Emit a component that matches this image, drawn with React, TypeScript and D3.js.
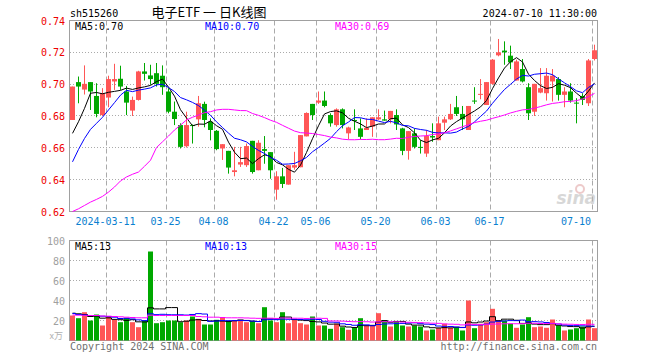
import * as d3 from 'd3';
import React from 'react';

// trading days shown (2024-03-01 .. 2024-07-10)
const days = [
  '03-01', '03-04', '03-05', '03-06', '03-07', '03-08', '03-11', '03-12', '03-13', '03-14', '03-15',
  '03-18', '03-19', '03-20', '03-21', '03-22', '03-25', '03-26', '03-27', '03-28', '03-29',
  '04-01', '04-02', '04-03', '04-08', '04-09', '04-10', '04-11', '04-12', '04-15', '04-16', '04-17',
  '04-18', '04-19', '04-22', '04-23', '04-24', '04-25', '04-26', '04-29', '04-30',
  '05-06', '05-07', '05-08', '05-09', '05-10', '05-13', '05-14', '05-15', '05-16', '05-17',
  '05-20', '05-21', '05-22', '05-23', '05-24', '05-27', '05-28', '05-29', '05-30', '05-31',
  '06-03', '06-04', '06-05', '06-06', '06-07', '06-11', '06-12', '06-13', '06-14',
  '06-17', '06-18', '06-19', '06-20', '06-21', '06-24', '06-25', '06-26', '06-27', '06-28',
  '07-01', '07-02', '07-03', '07-04', '07-05', '07-08', '07-09', '07-10',
].map(d => '2024-' + d);

const tickDates = ['2024-03-11', '2024-03-25', '2024-04-08', '2024-04-22', '2024-05-06', '2024-05-20', '2024-06-03', '2024-06-17', '2024-07-10'];

const open = [
  .6775, .7013, .6966, .7013, .6926, .6806, .6916, .7017, .7034, .6954, .6834, .6901, .708, .7055, .7069, .7053,
  .6954, .6827, .6743, .661, .6743, .6779, .6876, .6764, .6707, .6596, .6581, .6448, .6495, .6491, .6644, .6459,
  .6592, .6573, .6337, .6421, .6369, .6476, .6478, .6672, .6876, .6884, .6897, .6806, .6743, .6842, .6691, .6775,
  .6722, .6712, .6733, .6779, .6779, .6779, .6806, .6722, .6581, .6691, .6606, .6564, .6674, .6648, .6758, .6779,
  .6855, .6813, .6712, .6897, .6933, .6869, .7002, .7181, .7211, .7179, .7023, .7095, .6981, .6827, .6947, .6943,
  .7017, .7032, .6933, .6954, .6884, .6926, .688, .7158,
];
const close = [
  .6985, .6985, .7002, .6954, .6813, .6943, .7032, .7032, .6985, .6884, .6901, .708, .7065, .7032, .7002, .6981,
  .6827, .6781, .6606, .6743, .6737, .688, .6775, .6712, .6592, .6623, .6476, .6459, .651, .6611, .6448, .6632,
  .6581, .6459, .6421, .6373, .6491, .6491, .668, .6819, .6806, .6897, .6863, .6754, .6842, .6743, .6728, .6769,
  .6669, .6726, .6792, .6792, .6771, .6832, .6747, .6581, .6705, .6606, .66, .6674, .6665, .6754, .6779, .6813,
  .6813, .6779, .6863, .6891, .6939, .7013, .7154, .72, .72, .7137, .7143, .7017, .6817, .7002, .6975, .7053,
  .7053, .6933, .6954, .6897, .688, .6901, .7149, .7213,
];
const high = [
  .6985, .7048, .7118, .7013, .7006, .6975, .7053, .7128, .7116, .6989, .6922, .7084, .7133, .7122, .7133, .7118,
  .6975, .6891, .6754, .6827, .6747, .6926, .689, .6785, .6712, .6623, .6581, .6606, .6606, .6627, .6644, .6648,
  .6674, .6573, .6453, .6474, .6491, .6575, .668, .6823, .6876, .6954, .6954, .6817, .6848, .6848, .6733, .6842,
  .6785, .6785, .6792, .6842, .6834, .6832, .6842, .6726, .6705, .6722, .6648, .6712, .6754, .6796, .6796, .6876,
  .6926, .6863, .6863, .6981, .7032, .7013, .7158, .7284, .7269, .7242, .7154, .7158, .7006, .7002, .7101, .7101,
  .7095, .7044, .6981, .7006, .6912, .6943, .7158, .7248,
];
const low = [
  .6775, .688, .6935, .6838, .6792, .68, .6855, .6964, .6964, .6806, .68, .6897, .7023, .6996, .6985, .6933,
  .6817, .6743, .6596, .6602, .6627, .6733, .6729, .6647, .6585, .6524, .6438, .6421, .648, .648, .6438, .6459,
  .65, .6406, .6274, .6348, .6369, .6463, .6478, .6672, .6775, .6876, .6855, .6733, .6733, .6722, .6653, .6712,
  .6653, .6712, .6669, .6775, .6771, .6754, .6712, .6554, .6526, .6596, .6564, .6543, .6638, .6648, .6712, .6775,
  .68, .6712, .6712, .6876, .6905, .6869, .6996, .7175, .7122, .7095, .7023, .7011, .6775, .68, .6943, .6897,
  .6891, .6897, .6855, .6884, .6754, .6869, .6863, .7149,
];
// volume, 10k lots
const volume = [
  25, 22.3, 28.3, 20, 26, 15, 24, 20.7, 18.3, 22.7, 18.3, 13.3, 20, 89, 17.3, 18.3, 20, 20, 18.3, 20, 24, 21.7,
  16, 16, 20.7, 22.7, 19.3, 20, 20, 18.3, 19.3, 17.3, 33.3, 20, 18.3, 28.3, 17.3, 20.7, 17.3, 16, 24, 15, 15, 11.7,
  16.7, 13.3, 10.7, 12.7, 22.3, 15, 15, 27.3, 20, 14, 19, 15, 14, 15, 14, 10, 11, 12.7, 16.7, 12.7, 13.3, 10, 40,
  12.3, 16.7, 18.3, 31.7, 20, 20, 16.7, 12.7, 16, 23.3, 13.3, 14, 12.7, 21, 15, 10, 11, 12.3, 14, 21, 12.3,
];
// legend values as printed on the chart
const volMaLegend = [13, 13, 15];

// moving-average values before enough days are on screen
const ma5Head = [.6691, .6764, .6848, .6943];
const ma10Head = [.6512, .659, .6659, .6716, .6754, .6792, .6838, .6884, .6931];
const ma30Head = [
  .62, .6217, .6238, .6259, .6276, .6295, .6322, .6354, .6392, .6417, .6434, .6448, .6484, .6522, .6602,
  .6638, .6674, .6712, .6743, .6775, .6792, .6806, .6821, .6827, .6838, .6842, .6842, .6838, .6834,
];
const volMa5Head = [27.3, 26.7, 26, 24];
const volMa10Head = [27, 26, 25.5, 25, 25, 24.3, 24, 23.3, 22];
const volMa30Head = [
  25.5, 25.3, 25.2, 25, 25, 24.5, 24.3, 24, 23.7, 23.3, 23, 22.7, 22.7, 25.3, 25, 25, 25, 25, 25, 25, 25,
  24, 23.7, 23.3, 23.3, 23, 22.7, 22.7, 22.7,
];

const priceTicks = [0.62, 0.64, 0.66, 0.68, 0.70, 0.72, 0.74];
const volTicks = [20, 40, 60, 80, 100];

const RED = '#ff5656';
const GREEN = '#00a800';
const GRID = '#aaaaaa';
const MONO = "'DejaVu Sans Mono', monospace";

const movingAvg = (vals: number[], n: number, head: number[]) =>
  vals.map((_, i) => (i < n - 1 ? head[i] : (d3.mean(vals.slice(i - n + 1, i + 1)) as number)));

const App: React.FC = () => {
  const left = 70;
  const right = 597;
  const x = d3.scaleBand<number>().domain(d3.range(days.length)).range([left, right]).paddingInner(1 / 6).paddingOuter(0);
  const bw = x.bandwidth();
  const cx = (i: number) => (x(i) as number) + bw / 2;
  const y = d3.scaleLinear().domain([0.62, 0.74]).range([211.5, 20.5]);
  const vy = d3.scaleLinear().domain([0, 100]).range([340.5, 240.5]);

  const ma5 = movingAvg(close, 5, ma5Head);
  const ma10 = movingAvg(close, 10, ma10Head);
  const ma30 = movingAvg(close, 30, ma30Head);
  const vma5 = movingAvg(volume, 5, volMa5Head);
  const vma10 = movingAvg(volume, 10, volMa10Head);
  const vma30 = movingAvg(volume, 30, volMa30Head);

  const priceLine = d3.line<number>().x((_, i) => cx(i)).y(d => y(d));
  const volLine = d3.line<number>().x((_, i) => cx(i)).y(d => vy(d)).curve(d3.curveStep);

  const last = days.length - 1;
  const tickIdx = tickDates.map(d => days.indexOf(d));
  const tickX = (i: number) => Math.floor(x(i) as number) + 0.5;

  const maLabels = [
    { name: 'MA5', color: '#000', x: 75 },
    { name: 'MA10', color: '#0000ff', x: 205 },
    { name: 'MA30', color: '#ff00ff', x: 335 },
  ];
  const priceMas = [ma5, ma10, ma30];
  const volMas = [vma5, vma10, vma30];

  const panel = (top: number, bottom: number, gridVals: number[], scale: (v: number) => number) => (
    <g>
      {gridVals.map(v => (
        <line key={v} x1={left} x2={right} y1={Math.round(scale(v) - 0.5) + 0.5} y2={Math.round(scale(v) - 0.5) + 0.5}
          stroke={GRID} strokeDasharray="1,2" />
      ))}
      {tickIdx.map(i => (
        <line key={i} x1={tickX(i)} x2={tickX(i)} y1={top} y2={bottom} stroke={GRID} strokeDasharray="5,3" />
      ))}
      <rect x={left - 0.5} y={top} width={right - left + 1} height={bottom - top} fill="none" stroke="#a0a0a0" />
    </g>
  );

  return (
    <svg width={660} height={360} style={{ position: 'absolute', left: 0, top: 0, background: '#fff' }}
      fontFamily={MONO} fontSize={10}>
      <rect width={660} height={360} fill="#fff" />
      {/* header */}
      <text x={70} y={17} fill="#000">sh515260</text>
      <text x={209} y={17} textAnchor="middle" fontFamily="'Noto Sans CJK SC', sans-serif" fontSize={13} fill="#000"
        style={{ whiteSpace: 'pre' }}>
        {'电子ETF 一 日K线图'}
      </text>
      <text x={597} y={16.5} textAnchor="end" fill="#000">2024-07-10 11:30:00</text>

      {/* price panel */}
      {panel(20.5, 211.5, priceTicks.slice(1, -1), y)}
      {priceTicks.map(t => (
        <text key={t} x={65} y={y(t) + 4} textAnchor="end" fill="#ee0000">{t.toFixed(2)}</text>
      ))}
      <g opacity={0.55}>
        <circle cx={580} cy={189} r={4} fill="none" stroke="#e0a0a0" strokeWidth={2} />
        <text x={596} y={204} textAnchor="end" fontFamily="'DejaVu Sans', sans-serif" fontStyle="italic"
          fontWeight="bold" fontSize={17} fill="#b8b8b8">sina</text>
      </g>
      {close.map((c, i) => {
        const o = open[i];
        const up = c >= o;
        const col = up ? RED : GREEN;
        const top = y(Math.max(o, c));
        const h = Math.max(1, Math.abs(y(o) - y(c)));
        return (
          <g key={i}>
            <rect x={(x(i) as number) + 2} y={y(high[i])} width={1} height={y(low[i]) - y(high[i])} fill={col} />
            <rect x={x(i)} y={top} width={bw} height={h} fill={col} />
          </g>
        );
      })}
      {priceMas.map((m, k) => (
        <path key={k} d={priceLine(m) as string} fill="none" stroke={maLabels[k].color} strokeWidth={1} />
      ))}
      {maLabels.map((l, k) => (
        <text key={l.name} x={l.x} y={29.5} fill={l.color}>{`${l.name}:${priceMas[k][last].toFixed(2)}`}</text>
      ))}
      {tickIdx.map((i, k) => {
        const label = k === 0 ? tickDates[k] : tickDates[k].slice(5);
        const isLast = k === tickIdx.length - 1;
        return (
          <text key={i} x={isLast ? 591 : tickX(i) - 1} y={225} textAnchor={isLast ? 'end' : 'middle'} fill="#0a80d0">
            {label}
          </text>
        );
      })}

      {/* volume panel */}
      {panel(240.5, 340.5, volTicks.slice(0, -1), vy)}
      {volTicks.map(t => (
        <text key={t} x={65} y={vy(t) + 4} textAnchor="end" fill="#a0a0a0">{t}</text>
      ))}
      <text x={63} y={339} textAnchor="end" fill="#b0b0b0" fontFamily="'Noto Sans CJK SC', sans-serif" fontSize={9}>x万</text>
      {volume.map((v, i) => (
        <rect key={i} x={x(i)} y={vy(v)} width={bw} height={vy(0) - vy(v)} fill={close[i] >= open[i] ? RED : GREEN} />
      ))}
      {volMas.map((m, k) => (
        <path key={k} d={volLine(m) as string} fill="none" stroke={maLabels[k].color} strokeWidth={1} />
      ))}
      {maLabels.map((l, k) => (
        <text key={l.name} x={l.x} y={249.5} fill={l.color}>{`${l.name}:${volMaLegend[k]}`}</text>
      ))}

      {/* footer */}
      <text x={70} y={350} fill="#707070">Copyright 2024 SINA.COM</text>
      <text x={597} y={350} textAnchor="end" fill="#707070">http://finance.sina.com.cn</text>
    </svg>
  );
};

export default App;
